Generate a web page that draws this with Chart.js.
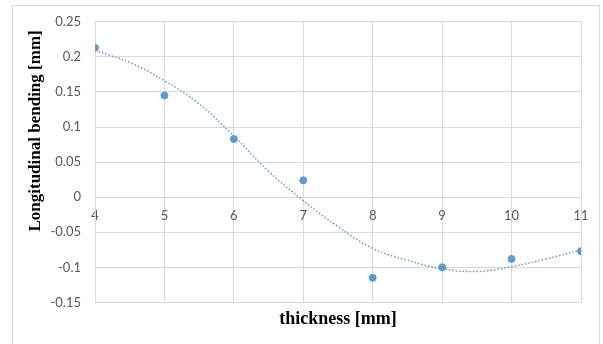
<!DOCTYPE html>
<html>
<head>
<meta charset="utf-8">
<script src="https://cdn.jsdelivr.net/npm/chart.js@4/dist/chart.umd.min.js"></script>
<style>
  html, body { margin: 0; padding: 0; background: #fff; }
  #wrap { position: relative; width: 603px; height: 344px; overflow: hidden; }
  #frame { position: absolute; left: 12px; top: 5px; width: 588px; height: 360px; border: 1px solid #d9d9d9; box-sizing: border-box; }
  canvas { position: absolute; left: 0; top: 0; }
</style>
</head>
<body>
<div id="wrap">
  <div id="frame"></div>
  <canvas id="c" width="603" height="344"></canvas>
</div>
<script>
// Measured points
const thickness = [4, 5, 6, 7, 8, 9, 10, 11];
const bending = [0.213, 0.145, 0.083, 0.024, -0.115, -0.100, -0.088, -0.077];

// Trendline
const trendX = [4, 4.5, 5, 5.5, 6, 6.5, 7, 7.5, 8, 8.5, 9, 9.5, 10, 10.5, 11];
const trendY = [0.209, 0.192, 0.166, 0.133, 0.087, 0.037, -0.005, -0.042, -0.073, -0.090, -0.102, -0.106, -0.099, -0.088, -0.075];

// Axis ticks
const yTickMin = -0.15, yTickMax = 0.25, yStep = 0.05;
const xTickMin = 4, xTickMax = 11, xStep = 1;

const xTitle = 'thickness [mm]';
const yTitle = 'Longitudinal bending [mm]';

const blue = '#5b9bd5';
const grid = '#d9d9d9';
const tickFont = { family: 'Lato, "Liberation Sans", sans-serif', size: 13 };
const titleFont = { family: '"Liberation Serif", "Times New Roman", serif', size: 18, weight: 'bold' };

new Chart(document.getElementById('c'), {
  data: {
    datasets: [
      {
        type: 'line',
        label: 'trend',
        data: trendX.map((x, i) => ({ x: x, y: trendY[i] })),
        borderColor: '#6f97c4',
        borderWidth: 1.5,
        borderDash: [1.5, 2],
        pointRadius: 0,
        tension: 0.4,
        fill: false,
        xAxisID: 'x',
        order: 2
      },
      {
        type: 'scatter',
        label: 'data',
        data: thickness.map((x, i) => ({ x: x, y: bending[i] })),
        backgroundColor: blue,
        borderColor: blue,
        pointRadius: 3.5,
        pointHoverRadius: 3.5,
        xAxisID: 'x',
        order: 1
      }
    ]
  },
  options: {
    responsive: false,
    animation: false,
    devicePixelRatio: 1,
    layout: { padding: { left: 12, right: 22, top: 12, bottom: 0 } },
    plugins: { legend: { display: false }, tooltip: { enabled: false }, title: { display: false } },
    scales: {
      x: {
        type: 'linear',
        position: { y: 0 },
        min: xTickMin, max: xTickMax,
        ticks: { stepSize: xStep, color: '#595959', font: tickFont, padding: 11, maxRotation: 0 },
        grid: { color: grid, drawTicks: false, lineWidth: 1 },
        border: { color: grid, width: 1 }
      },
      x2: {
        type: 'linear',
        position: 'bottom',
        min: xTickMin, max: xTickMax,
        ticks: { display: false },
        grid: { display: false, drawTicks: false },
        border: { display: false },
        title: { display: true, text: xTitle, color: '#000', font: titleFont, padding: { top: 6, bottom: 14 } }
      },
      y: {
        type: 'linear',
        min: yTickMin, max: yTickMax,
        ticks: {
          stepSize: yStep, color: '#595959', font: tickFont, padding: 14,
          callback: v => String(Number(v.toFixed(2)))
        },
        grid: { color: grid, drawTicks: false, lineWidth: 1 },
        border: { color: grid, width: 1 },
        title: {
          display: true, text: yTitle + '\u00a0\u00a0', color: '#000', align: 'end',
          font: { family: '"Liberation Serif", "Times New Roman", serif', size: 17, weight: 'bold' },
          padding: { top: 13, bottom: 0 }
        },
        afterFit: s => { s.width = 83; }
      }
    }
  }
});
</script>
</body>
</html>
